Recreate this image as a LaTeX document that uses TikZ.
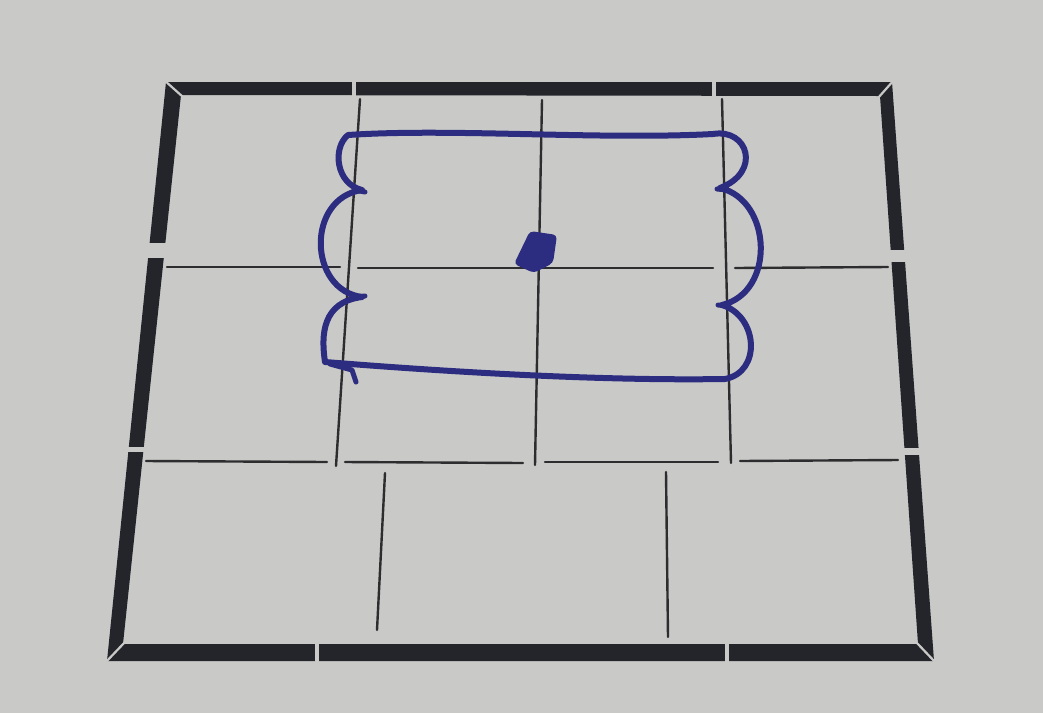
\documentclass[tikz,border=0pt]{standalone}
\definecolor{paper}{RGB}{201,201,199}
\definecolor{framec}{RGB}{36,37,43}
\definecolor{gridc}{RGB}{45,45,48}
\definecolor{penblue}{RGB}{44,44,128}
\begin{document}
\begin{tikzpicture}[x=1pt,y=-1pt,
  thinline/.style={draw=gridc,line width=2.4pt,line cap=round},
  gapline/.style={draw=paper,line cap=butt},
  penline/.style={draw=penblue,line width=6pt,line cap=round,line join=round}]
\useasboundingbox (0,0) rectangle (1043,713);
\fill[paper] (0,0) rectangle (1043,713);
% outer frame as a ring
\fill[framec,even odd rule]
  (166,82) -- (892,82) -- (934,661) -- (107,661) -- cycle
  (181,95) -- (880,96) -- (918,644) -- (123,644) -- cycle;
% corner mitre gaps
\draw[gapline,line width=2.2pt] (164,80) -- (183,97);
\draw[gapline,line width=2.2pt] (894,80) -- (878,98);
\draw[gapline,line width=2.2pt] (936,663) -- (916,642);
\draw[gapline,line width=2.2pt] (105,663) -- (125,642);
% segment gaps
\draw[gapline,line width=3.5pt] (354,76) -- (354,100);
\draw[gapline,line width=3.5pt] (714,76) -- (714,100);
\draw[gapline,line width=3.5pt] (317,638) -- (317,666);
\draw[gapline,line width=3.5pt] (727,638) -- (727,666);
\draw[gapline,line width=15pt] (138,250) -- (178,250);
\draw[gapline,line width=5pt] (112,449) -- (150,449);
\draw[gapline,line width=12pt] (880,256) -- (915,256);
\draw[gapline,line width=7pt] (895,451) -- (928,451);
% thin grid lines
\coordinate (h1a) at (167,267); \coordinate (h1b) at (340,267);
\draw[thinline] (h1a) -- (h1b);
\draw[thinline] (358,268) -- (713,268);
\draw[thinline] (735,268) -- (888,267);
\draw[thinline] (146,461) -- (327,462);
\draw[thinline] (345,462) -- (523,463);
\draw[thinline] (545,462) -- (718,462);
\draw[thinline] (740,461) -- (898,460);
\draw[thinline] (360,99) -- (336,466);
\draw[thinline] (542,100) -- (535,465);
\draw[thinline] (722,99) -- (731,463);
\draw[thinline] (385,473) -- (377,630);
\draw[thinline] (666,472) -- (668,637);
% blue pen shape
\draw[penline]
  (348,135) .. controls (450,128) and (600,140) .. (713,134)
  .. controls (748,128) and (762,172) .. (720,188)
  .. controls (772,200) and (776,292) .. (722,305)
  .. controls (758,316) and (762,372) .. (725,379)
  .. controls (600,381) and (450,372) .. (325,362)
  .. controls (321,335) and (322,302) .. (362,297)
  .. controls (308,290) and (306,198) .. (362,190)
  .. controls (336,184) and (332,148) .. (348,135) -- cycle;
% little pen ticks at the cusps
\draw[penline,line width=5pt] (355,190) -- (365,192);
\draw[penline,line width=5pt] (355,297) -- (365,296);
\draw[penline,line width=5pt] (717,189) -- (727,190);
\draw[penline,line width=5pt] (718,305) -- (728,306);
\draw[penline,line width=5pt] (330,364) -- (352,370) -- (356,382);
% dot
\fill[penblue,rounded corners=4pt] (530,231) -- (557,235) -- (553,263) -- (534,273) -- (514,264) -- cycle;
\end{tikzpicture}
\end{document}
